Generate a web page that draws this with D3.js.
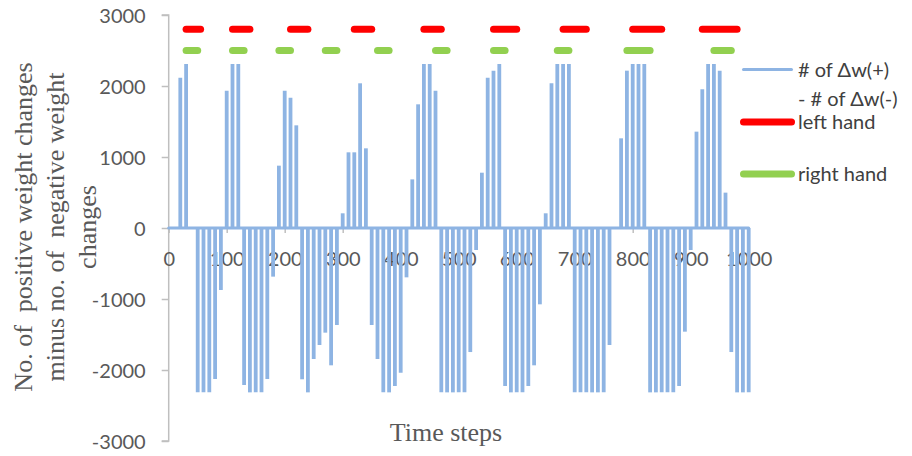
<!DOCTYPE html>
<html>
<head>
<meta charset="utf-8">
<script src="https://cdn.jsdelivr.net/npm/d3@7"></script>
<style>
  html, body { margin: 0; padding: 0; background: #fff; }
  svg { display: block; }
  text { white-space: pre; }
</style>
</head>
<body>
<svg id="chart" width="912" height="456"></svg>
<script>
// ---- data ----
const timeSteps = d3.range(0, 1001, 10);
const netChanges = [
  0, 0, 2117, 2310, 0, -2315, -2315, -2315, -2127, -873,
  1934, 2310, 2310, -2211, -2315, -2315, -2315, -2127, -685, 878,
  1934, 1836, 1446, -2131, -2315, -1845, -1648, -1474, -1934, -1366,
  207, 1066, 1066, 2038, 1122, -1366, -1845, -2315, -2315, -2225,
  -2038, -695, 685, 1742, 2310, 2310, 1934, -2315, -2315, -2315,
  -2315, -2315, -1747, -310, 779, 2117, 2216, 2310, -2225, -2315,
  -2315, -2315, -2225, -1934, -1075, 207, 2038, 2310, 2310, 2310,
  -2315, -2315, -2315, -2315, -2315, -2315, -1648, 0, 1263, 2216,
  2310, 2310, 2310, -2315, -2315, -2315, -2315, -2315, -2225, -1460,
  -310, 1357, 1953, 2310, 2310, 2216, 498, -1747, -2315, -2315,
  -2315
];
const leftHandLevel = 2800;
const leftHandSpans = [[30,55],[110,140],[210,240],[320,350],[440,470],[560,600],[680,720],[800,850],[920,980]];
const rightHandLevel = 2500;
const rightHandSpans = [[30,50],[110,130],[190,210],[270,290],[360,380],[460,480],[560,580],[670,690],[790,830],[940,970]];
const xTicks = [0,100,200,300,400,500,600,700,800,900,1000];
const yTicks = [-3000,-2000,-1000,0,1000,2000,3000];
const yTitleLines = ["No. of  positive weight changes", "minus no. of  negative weight", "changes"];
const xTitle = "Time steps";
const legendItems = [
  { lines: ["# of \u0394w(+)", "- # of \u0394w(-)"], color: "#8eb4e3", width: 3 },
  { lines: ["left hand"], color: "#ff0000", width: 7 },
  { lines: ["right hand"], color: "#92d050", width: 7 }
];

// ---- layout ----
const svg = d3.select("#chart");
const x = d3.scaleLinear().domain([0, 1000]).range([168.7, 748.7]);
const y = d3.scaleLinear().domain([-3000, 3000]).range([441, 15]);
const tickFont = "Lato, 'Open Sans', sans-serif";
const serif = "'Liberation Serif', 'Times New Roman', serif";
const grey = "#595959";
const fmt = d => String(d);

// y axis
const yAxis = d3.axisLeft(y).tickValues(yTicks).tickSize(7).tickFormat(fmt);
const gy = svg.append("g").attr("transform", `translate(${x(0)},0)`).call(yAxis);
gy.select(".domain").attr("stroke", "#bfbfbf").attr("stroke-width", 1.5).attr("d", `M-7,${y(3000)}H0V${y(-3000)}H-7`);
gy.selectAll(".tick line").attr("stroke", "#bfbfbf").attr("stroke-width", 1.5);
gy.selectAll(".tick text").attr("x", -23).attr("dy", "0.35em")
  .attr("font-family", tickFont).attr("font-size", 20).attr("fill", grey);

// x axis at zero
const xAxis = d3.axisBottom(x).tickValues(xTicks).tickSize(5).tickFormat(fmt);
const gx = svg.append("g").attr("transform", `translate(0,${y(0)})`).call(xAxis);
gx.select(".domain").attr("stroke", "#bfbfbf").attr("stroke-width", 1.5).attr("d", `M${x(0)},0H${x(1000)}`);
gx.selectAll(".tick line").attr("stroke", "#bfbfbf").attr("stroke-width", 1.5);
gx.selectAll(".tick text").attr("y", 31).attr("dy", "0.35em")
  .attr("font-family", tickFont).attr("font-size", 20).attr("fill", grey);

// series: net changes
const blue = "#8eb4e3";
svg.append("line")
  .attr("x1", x(0)).attr("x2", x(1000)).attr("y1", y(0)).attr("y2", y(0))
  .attr("stroke", blue).attr("stroke-width", 3).attr("stroke-linecap", "round");
svg.append("g").selectAll("line")
  .data(timeSteps.map((t, i) => ({ t, v: netChanges[i] })).filter(d => d.v !== 0))
  .join("line")
  .attr("x1", d => x(d.t)).attr("x2", d => x(d.t))
  .attr("y1", y(0)).attr("y2", d => y(d.v))
  .attr("stroke", blue).attr("stroke-width", 3.8);

// left hand / right hand
function spans(data, level, color) {
  svg.append("g").selectAll("line").data(data).join("line")
    .attr("x1", d => x(d[0])).attr("x2", d => x(d[1]))
    .attr("y1", y(level)).attr("y2", y(level))
    .attr("stroke", color).attr("stroke-width", 7).attr("stroke-linecap", "round");
}
spans(leftHandSpans, leftHandLevel, "#ff0000");
spans(rightHandSpans, rightHandLevel, "#92d050");

// legend
const legendY = [69.5, 122, 174];
const lg = svg.append("g");
legendItems.forEach((item, i) => {
  lg.append("line").attr("x1", 743.5).attr("x2", 791.5)
    .attr("y1", legendY[i]).attr("y2", legendY[i])
    .attr("stroke", item.color).attr("stroke-width", item.width).attr("stroke-linecap", "round");
  item.lines.forEach((s, j) => {
    lg.append("text").attr("x", 798).attr("y", legendY[i] + j * 29.5).attr("dy", "0.35em")
      .attr("font-family", tickFont).attr("font-size", 20).attr("fill", "#404040").text(s);
  });
});

// axis titles
const yt = svg.append("g").attr("transform", "translate(0,227)");
yTitleLines.forEach((s, i) => {
  yt.append("text").attr("transform", `translate(${23 + i * 32},0) rotate(-90)`)
    .attr("text-anchor", "middle").attr("dy", "0.35em")
    .attr("font-family", serif).attr("font-size", 26).attr("fill", grey).text(s);
});
svg.append("text").attr("x", 446).attr("y", 441).attr("text-anchor", "middle")
  .attr("font-family", serif).attr("font-size", 26).attr("fill", grey).text(xTitle);
</script>
</body>
</html>
